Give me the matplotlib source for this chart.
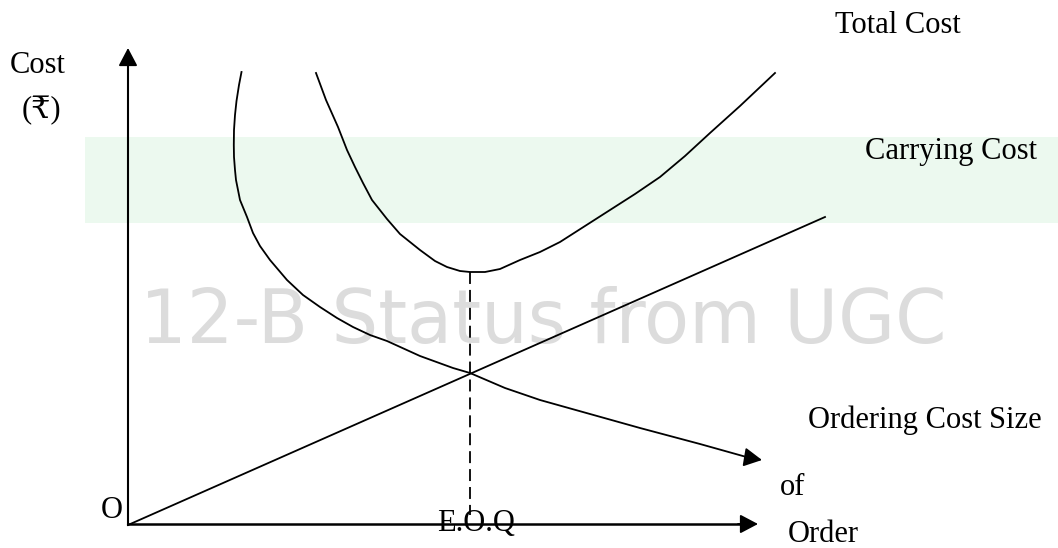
import matplotlib.pyplot as plt
from matplotlib.patches import Rectangle

# chart values (x = order size, y = cost, origin at O)
ordering_x = [113.5, 111, 108.5, 107, 106, 105.8, 106, 107, 108, 112, 119, 125,
              132, 142, 159, 175, 192, 209, 225, 242, 259, 292, 325, 342, 377,
              412, 462, 512, 572, 622, 634]
ordering_y = [453, 440, 424, 410, 395, 380, 368, 355, 345, 325, 308, 292,
              279, 265, 245, 230, 218, 207, 198, 190, 184, 169, 157, 152, 137,
              125, 111, 97, 81, 67, 65]

total_x = [188, 198, 210, 219, 227, 235, 244, 259, 272, 292, 307, 319, 332,
           342, 357, 372, 392, 412, 432, 457, 482, 507, 532, 557, 582, 612, 647]
total_y = [452, 425, 398, 375, 358, 342, 325, 306, 291, 275, 264, 258, 254,
           253, 253, 256, 265, 273, 283, 299, 315, 331, 348, 369, 392, 419, 452]

carrying_x = [0, 697]
carrying_y = [0, 308]

eoq_x = 342
eoq_top = 253
axis_x_end = 630
axis_y_end = 477

SERIF = ['Liberation Serif', 'DejaVu Serif', 'DejaVu Sans']
plt.rcParams['lines.scale_dashes'] = False

fig = plt.figure(figsize=(10.58, 5.48), dpi=100)
ax = fig.add_axes([0, 0, 1, 1])
ax.set_xlim(-128, 930)
ax.set_ylim(-23, 525)
ax.set_axis_off()

# faint watermark in the background
ax.add_patch(Rectangle((-43, 302), 973, 86, facecolor='#e6f7ea', edgecolor='none',
                       alpha=0.75, zorder=0))
ax.text(12, 182, '12-B Status from UGC', fontsize=53, color='#dcdcdc',
        family='DejaVu Sans', ha='left', va='baseline', zorder=0)

black = dict(color='black', lw=1.3)
arrow = dict(arrowstyle='-|>,head_length=0.55,head_width=0.29', mutation_scale=20,
             color='black', lw=1.3, shrinkA=0, shrinkB=0)

# axes with arrows
ax.plot([0, 0], [0, axis_y_end - 10], color='black', lw=1.5)
ax.annotate('', xy=(0, axis_y_end), xytext=(0, axis_y_end - 20), arrowprops=arrow)
ax.plot([0, axis_x_end - 10], [1, 1], color='black', lw=1.8)
ax.annotate('', xy=(axis_x_end, 1), xytext=(axis_x_end - 20, 1), arrowprops=arrow)

# cost curves
ax.plot(carrying_x, carrying_y, **black)
ax.plot(total_x, total_y, **black)
ax.plot(ordering_x[:-1], ordering_y[:-1], **black)
ax.annotate('', xy=(ordering_x[-1], ordering_y[-1]),
            xytext=(ordering_x[-2], ordering_y[-2]), arrowprops=arrow)

# EOQ marker
ax.plot([eoq_x, eoq_x], [eoq_top, 10], color='black', lw=1.3, dashes=(8.6, 4.3))

# labels
fs = 22
ax.text(707, 492, 'Total Cost', fontsize=fs, family=SERIF, va='baseline')
ax.text(737, 366, 'Carrying Cost', fontsize=fs, family=SERIF, va='baseline')
ax.text(-118, 452, 'Cost', fontsize=fs, family=SERIF, va='baseline')
ax.text(-87, 407, '(₹)', fontsize=fs, family=SERIF, va='baseline', ha='center')
ax.text(680, 97, 'Ordering Cost Size', fontsize=fs, family=SERIF, va='baseline')
ax.text(652, 30, 'of', fontsize=fs, family=SERIF, va='baseline')
ax.text(660, -17, 'Order', fontsize=fs, family=SERIF, va='baseline')
ax.text(309, -6, 'E.O.Q', fontsize=fs, family=SERIF, va='baseline')
ax.text(-27, 7, 'O', fontsize=fs, family=SERIF, va='baseline')

fig.savefig('out.png', dpi=100, facecolor='white')
